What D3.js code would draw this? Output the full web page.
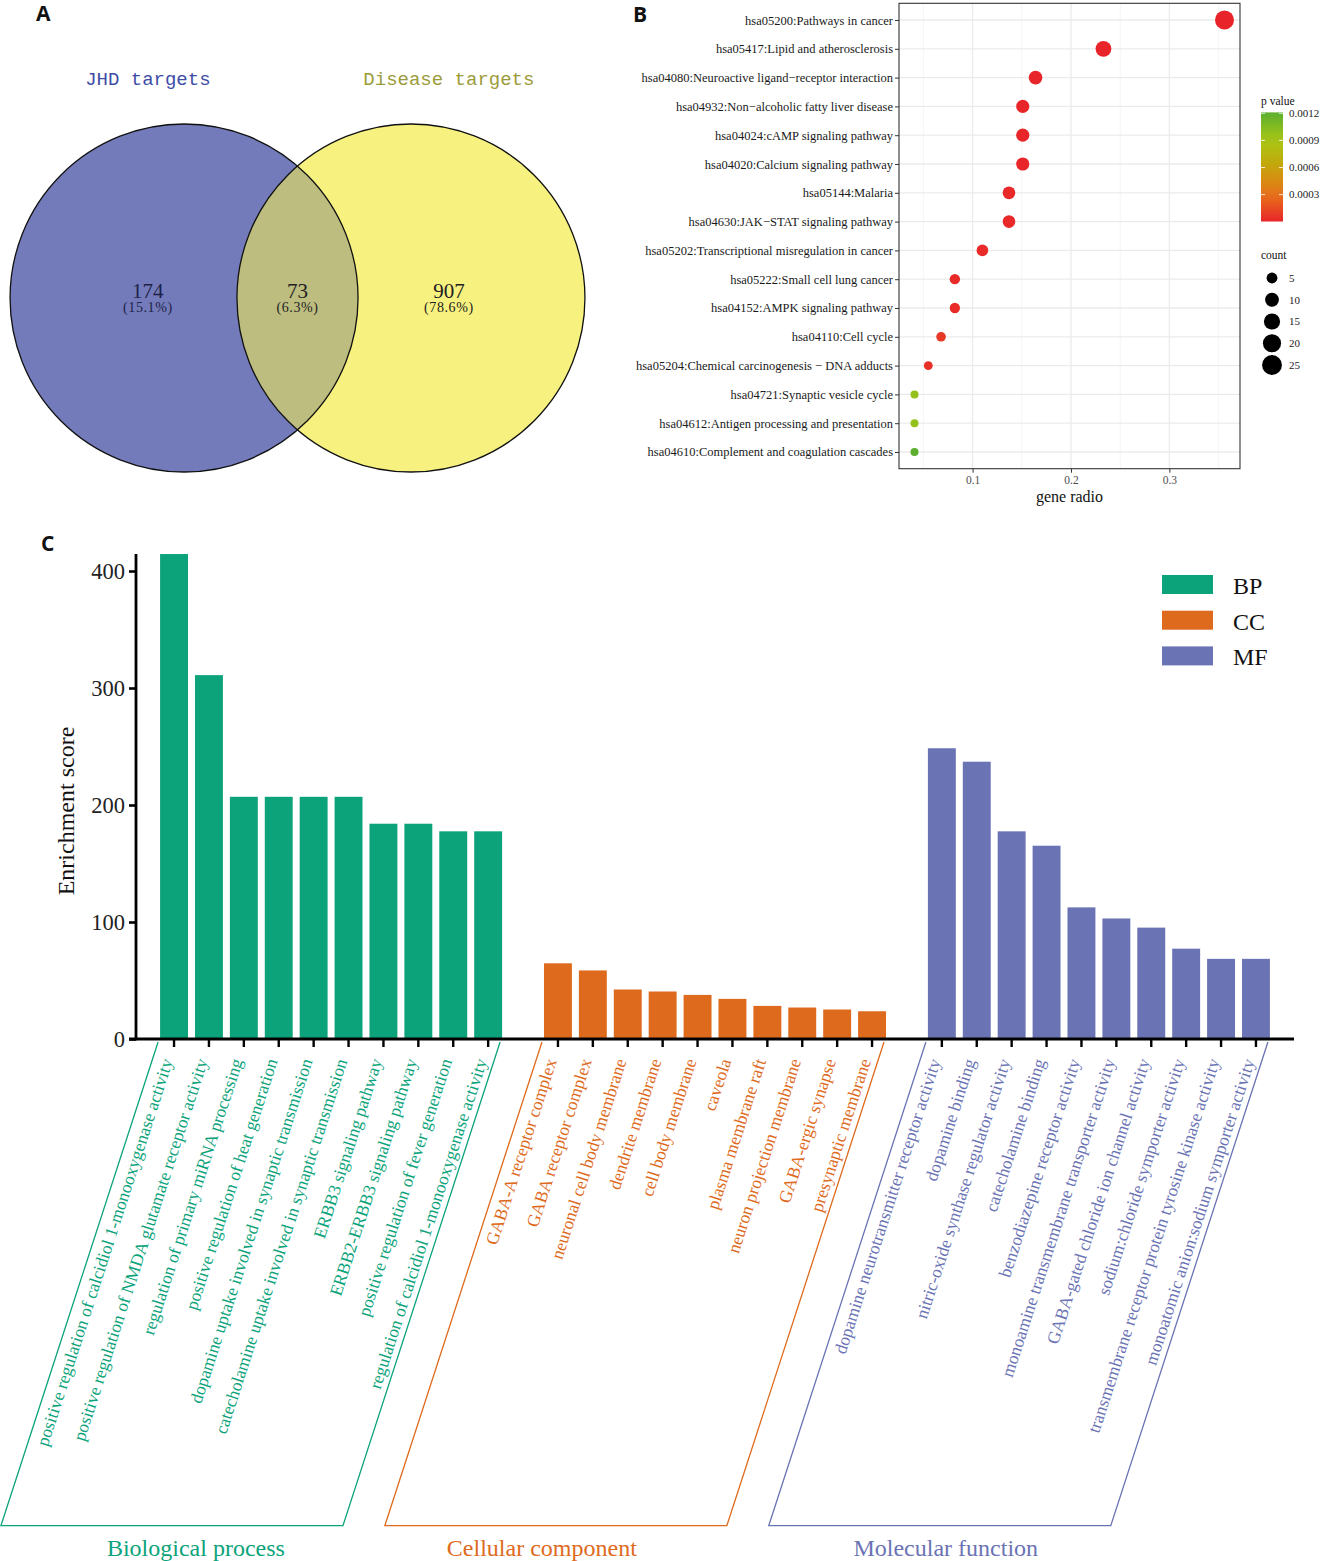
<!DOCTYPE html>
<html><head><meta charset="utf-8">
<script src="https://cdnjs.cloudflare.com/ajax/libs/d3/7.8.5/d3.min.js"></script>
<style>body{margin:0;background:#fff}svg{display:block}</style>
</head><body>
<svg id="c" width="1321" height="1561"></svg>
<script>
// ---------- DATA ----------
// Panel A: Venn
const vennSets = ["JHD targets", "Disease targets"];
const vennCounts = [174, 73, 907];
const vennPerc = ["(15.1%)", "(6.3%)", "(78.6%)"];

// Panel B: KEGG dot plot
const keggTerms = [
  "hsa05200:Pathways in cancer",
  "hsa05417:Lipid and atherosclerosis",
  "hsa04080:Neuroactive ligand\u2212receptor interaction",
  "hsa04932:Non\u2212alcoholic fatty liver disease",
  "hsa04024:cAMP signaling pathway",
  "hsa04020:Calcium signaling pathway",
  "hsa05144:Malaria",
  "hsa04630:JAK\u2212STAT signaling pathway",
  "hsa05202:Transcriptional misregulation in cancer",
  "hsa05222:Small cell lung cancer",
  "hsa04152:AMPK signaling pathway",
  "hsa04110:Cell cycle",
  "hsa05204:Chemical carcinogenesis \u2212 DNA adducts",
  "hsa04721:Synaptic vesicle cycle",
  "hsa04612:Antigen processing and presentation",
  "hsa04610:Complement and coagulation cascades"
];
const keggRatio = [0.356, 0.233, 0.164, 0.151, 0.151, 0.151, 0.137, 0.137, 0.110, 0.082, 0.082, 0.068, 0.055, 0.041, 0.041, 0.041];
const keggCount = [26, 17, 12, 11, 11, 11, 10, 10, 8, 6, 6, 5, 4, 3, 3, 3];
const keggP = [0.000002, 0.000005, 0.00001, 0.00001, 0.00001, 0.00001, 0.00002, 0.00002, 0.00003, 0.00003, 0.00003, 0.00008, 0.00005, 0.00098, 0.00098, 0.00121];
const xTicksB = [0.1, 0.2, 0.3];
const pTicks = [0.0003, 0.0006, 0.0009, 0.0012];
const countTicks = [5, 10, 15, 20, 25];

// Panel C: GO enrichment
const groups = ["BP", "CC", "MF"];
const groupTitles = ["Biological process", "Cellular component", "Molecular function"];
const bpTerms = [
  "positive regulation of calcidiol 1-monooxygenase activity",
  "positive regulation of NMDA glutamate receptor activity",
  "regulation of primary miRNA processing",
  "positive regulation of heat generation",
  "dopamine uptake involved in synaptic transmission",
  "catecholamine uptake involved in synaptic transmission",
  "ERBB3 signaling pathway",
  "ERBB2-ERBB3 signaling pathway",
  "positive regulation of fever generation",
  "regulation of calcidiol 1-monooxygenase activity"
];
const bpScore = [414.5, 311, 207, 207, 207, 207, 184, 184, 177.5, 177.5];
const ccTerms = [
  "GABA-A receptor complex",
  "GABA receptor complex",
  "neuronal cell body membrane",
  "dendrite membrane",
  "cell body membrane",
  "caveola",
  "plasma membrane raft",
  "neuron projection membrane",
  "GABA-ergic synapse",
  "presynaptic membrane"
];
const ccScore = [64.7, 58.6, 42.3, 40.6, 37.7, 34.3, 28.3, 26.9, 25.2, 23.7];
const mfTerms = [
  "dopamine neurotransmitter receptor activity",
  "dopamine binding",
  "nitric-oxide synthase regulator activity",
  "catecholamine binding",
  "benzodiazepine receptor activity",
  "monoamine transmembrane transporter activity",
  "GABA-gated chloride ion channel activity",
  "sodium:chloride symporter activity",
  "transmembrane receptor protein tyrosine kinase activity",
  "monoatomic anion:sodium symporter activity"
];
const mfScore = [248.5, 237, 177.5, 165.2, 112.5, 103, 95.2, 77.2, 68.5, 68.5];
const yTicksC = [0, 100, 200, 300, 400];

// ---------- STYLE ----------
const SERIF = "'Liberation Serif','Times New Roman',serif";
const MONO = "'Liberation Mono','DejaVu Sans Mono',monospace";
const SANS = "'Open Sans','Liberation Sans',sans-serif";
const groupColors = {BP: "#0ca37b", CC: "#de6a1d", MF: "#6a73b4"};

const svg = d3.select("#c");

// panel letters
svg.append("text").attr("x", 36).attr("y", 21).text("A")
  .attr("font-family", SANS).attr("font-weight", 700).attr("font-size", 21).attr("fill", "#111");
svg.append("text").attr("x", 633).attr("y", 22).text("B")
  .attr("font-family", SANS).attr("font-weight", 700).attr("font-size", 21).attr("fill", "#111");
svg.append("text").attr("x", 41).attr("y", 551).text("C")
  .attr("font-family", SANS).attr("font-weight", 700).attr("font-size", 21).attr("fill", "#111");

// ---------- PANEL A ----------
(function () {
  const g = svg.append("g");
  const vx = d3.scaleLinear().domain([-1, 1]).range([123.5, 471.5]);
  const vy = d3.scaleLinear().domain([-1, 1]).range([471.5, 124.5]);
  const r = vx(1) - vx(0);
  const centers = [-0.652, 0.652];
  const fills = ["#737bbb", "#f7f17f"];
  const defs = svg.append("defs");
  defs.append("clipPath").attr("id", "clipL").append("circle")
    .attr("cx", vx(centers[0])).attr("cy", vy(0)).attr("r", r);
  g.selectAll("circle.fill").data(centers).join("circle")
    .attr("cx", d => vx(d)).attr("cy", vy(0)).attr("r", r)
    .attr("fill", (d, i) => fills[i]);
  g.append("circle").attr("cx", vx(centers[1])).attr("cy", vy(0)).attr("r", r)
    .attr("fill", "#bdbd80").attr("clip-path", "url(#clipL)");
  g.selectAll("circle.st").data(centers).join("circle")
    .attr("cx", d => vx(d)).attr("cy", vy(0)).attr("r", r)
    .attr("fill", "none").attr("stroke", "#111").attr("stroke-width", 1.3);
  const titleCol = ["#3d4ca6", "#9c9b3a"];
  const titleX = [vx(-0.86), vx(0.87)];
  vennSets.forEach((s, i) => {
    g.append("text").attr("x", titleX[i]).attr("y", 85).attr("text-anchor", "middle")
      .attr("font-family", MONO).attr("font-size", 19).attr("fill", titleCol[i]).text(s);
  });
  const numX = [vx(-0.86), vx(0), vx(0.87)];
  const numCol = ["#1e2248", "#222", "#222"];
  vennCounts.forEach((c, i) => {
    g.append("text").attr("x", numX[i]).attr("y", 298).attr("text-anchor", "middle")
      .attr("font-family", SERIF).attr("font-size", 21).attr("fill", numCol[i]).text(c);
    g.append("text").attr("x", numX[i]).attr("y", 312).attr("text-anchor", "middle")
      .attr("font-family", SERIF).attr("font-size", 14).attr("letter-spacing", 0.6)
      .attr("fill", numCol[i]).text(vennPerc[i]);
  });
})();

// ---------- PANEL B ----------
(function () {
  const g = svg.append("g");
  const L = 899, R = 1240, T = 3.3, B = 468.7;
  const ext = d3.extent(keggRatio);
  const pad = (ext[1] - ext[0]) * 0.05;
  const x = d3.scaleLinear().domain([ext[0] - pad, ext[1] + pad]).range([L, R]);
  const y = d3.scalePoint().domain(keggTerms).range([T, B]).padding(0.58);
  const rS = d3.scaleSqrt().domain([3, 26]).range([4, 9.5]);
  const col = d3.scaleLinear().domain([0, 0.0003, 0.0006, 0.0009, 0.0012])
    .range(["#e8232a", "#e8731a", "#c8a20c", "#a8c814", "#5cae2e"]).clamp(true);

  const minor = [0.05, 0.15, 0.25, 0.35];
  g.selectAll("line.mn").data(minor).join("line")
    .attr("x1", d => x(d)).attr("x2", d => x(d)).attr("y1", T).attr("y2", B)
    .attr("stroke", "#f2f2f2").attr("stroke-width", 0.8);
  g.selectAll("line.mj").data(xTicksB).join("line")
    .attr("x1", d => x(d)).attr("x2", d => x(d)).attr("y1", T).attr("y2", B)
    .attr("stroke", "#ebebeb").attr("stroke-width", 1.3);
  g.selectAll("line.hy").data(keggTerms).join("line")
    .attr("x1", L).attr("x2", R).attr("y1", d => y(d)).attr("y2", d => y(d))
    .attr("stroke", "#ebebeb").attr("stroke-width", 1.3);

  g.selectAll("circle.pt").data(keggTerms).join("circle")
    .attr("cx", (d, i) => x(keggRatio[i])).attr("cy", d => y(d))
    .attr("r", (d, i) => rS(keggCount[i])).attr("fill", (d, i) => col(keggP[i]));

  g.append("rect").attr("x", L).attr("y", T).attr("width", R - L).attr("height", B - T)
    .attr("fill", "none").attr("stroke", "#333").attr("stroke-width", 1.1);

  const ya = g.append("g").attr("transform", `translate(${L},0)`)
    .call(d3.axisLeft(y).tickSize(4).tickPadding(2));
  ya.select(".domain").remove();
  ya.selectAll("line").attr("stroke", "#333");
  ya.selectAll("text").attr("font-family", SERIF).attr("font-size", 12.5).attr("fill", "#1a1a1a");

  const xa = g.append("g").attr("transform", `translate(0,${B})`)
    .call(d3.axisBottom(x).tickValues(xTicksB).tickSize(4).tickPadding(3).tickFormat(d3.format(".1f")));
  xa.select(".domain").remove();
  xa.selectAll("line").attr("stroke", "#333");
  xa.selectAll("text").attr("font-family", SERIF).attr("font-size", 11.5).attr("fill", "#4d4d4d");
  g.append("text").attr("x", (L + R) / 2).attr("y", 502).attr("text-anchor", "middle")
    .attr("font-family", SERIF).attr("font-size", 16).attr("fill", "#111").text("gene radio");

  const cbX = 1261, cbW = 22;
  const pExt = d3.extent(keggP);
  const py = d3.scaleLinear().domain([0, 0.0012]).range([221.7, 113.3]);
  const grad = svg.select("defs").append("linearGradient").attr("id", "pgrad")
    .attr("x1", 0).attr("x2", 0).attr("y1", 1).attr("y2", 0);
  const gs = d3.range(0, 1.0001, 0.1);
  grad.selectAll("stop").data(gs).join("stop")
    .attr("offset", d => d)
    .attr("stop-color", d => col(pExt[0] + d * (pExt[1] - pExt[0])));
  g.append("text").attr("x", cbX).attr("y", 105).attr("font-family", SERIF)
    .attr("font-size", 11.5).attr("fill", "#111").text("p value");
  g.append("rect").attr("x", cbX).attr("y", py(pExt[1])).attr("width", cbW)
    .attr("height", py(pExt[0]) - py(pExt[1])).attr("fill", "url(#pgrad)");
  pTicks.forEach(t => {
    g.append("line").attr("x1", cbX).attr("x2", cbX + 4).attr("y1", py(t)).attr("y2", py(t))
      .attr("stroke", "#fff").attr("stroke-width", 0.8);
    g.append("line").attr("x1", cbX + cbW - 4).attr("x2", cbX + cbW).attr("y1", py(t)).attr("y2", py(t))
      .attr("stroke", "#fff").attr("stroke-width", 0.8);
    g.append("text").attr("x", 1289).attr("y", py(t)).attr("dy", "0.35em")
      .attr("font-family", SERIF).attr("font-size", 11).attr("fill", "#222").text(d3.format(".4f")(t));
  });

  g.append("text").attr("x", cbX).attr("y", 259).attr("font-family", SERIF)
    .attr("font-size", 11.5).attr("fill", "#111").text("count");
  const ly = d3.scalePoint().domain(countTicks).range([278, 365]);
  countTicks.forEach(c => {
    g.append("circle").attr("cx", 1272).attr("cy", ly(c)).attr("r", rS(c) + 0.6).attr("fill", "#000");
    g.append("text").attr("x", 1289).attr("y", ly(c)).attr("dy", "0.35em")
      .attr("font-family", SERIF).attr("font-size", 11).attr("fill", "#222").text(c);
  });
})();

// ---------- PANEL C ----------
(function () {
  const g = svg.append("g");
  const axisX = 136, axisY = 1039, rightX = 1294;
  const items = [];
  const termSets = [bpTerms, ccTerms, mfTerms];
  const scoreSets = [bpScore, ccScore, mfScore];
  const slots = [];
  groups.forEach((grp, gi) => {
    termSets[gi].forEach((t, i) => {
      const key = grp + i;
      items.push({key, term: t, score: scoreSets[gi][i], grp, gi});
      slots.push(key);
    });
    if (gi < groups.length - 1) slots.push("gap" + gi);
  });
  const x = d3.scaleBand().domain(slots).range([axisX, rightX]).paddingInner(0.2).paddingOuter(0.69);
  const maxV = d3.max(items, d => d.score);
  const y = d3.scaleLinear().domain([0, 400]).range([axisY, 571]);

  g.selectAll("rect.bar").data(items).join("rect")
    .attr("x", d => x(d.key)).attr("width", x.bandwidth())
    .attr("y", d => y(d.score)).attr("height", d => axisY - y(d.score))
    .attr("fill", d => groupColors[d.grp]);

  const ya = g.append("g").attr("transform", `translate(${axisX},0)`)
    .call(d3.axisLeft(y).tickValues(yTicksC).tickSize(7).tickPadding(4));
  ya.select(".domain").remove();
  ya.selectAll("line").attr("stroke", "#000").attr("stroke-width", 2.6);
  ya.selectAll("text").attr("font-family", SERIF).attr("font-size", 22.5).attr("fill", "#222");
  g.append("line").attr("x1", axisX).attr("x2", axisX).attr("y1", axisY + 1.3).attr("y2", y(maxV))
    .attr("stroke", "#000").attr("stroke-width", 2.8);
  g.append("line").attr("x1", axisX - 7).attr("x2", rightX).attr("y1", axisY).attr("y2", axisY)
    .attr("stroke", "#000").attr("stroke-width", 2.8);
  g.selectAll("line.xt").data(items).join("line")
    .attr("x1", d => x(d.key) + x.bandwidth() / 2).attr("x2", d => x(d.key) + x.bandwidth() / 2)
    .attr("y1", axisY).attr("y2", axisY + 8).attr("stroke", "#000").attr("stroke-width", 2.4);

  g.append("text").attr("transform", `translate(74,811) rotate(-90)`).attr("text-anchor", "middle")
    .attr("font-family", SERIF).attr("font-size", 24).attr("fill", "#111").text("Enrichment score");

  const ang = 72;
  g.selectAll("text.lab").data(items).join("text")
    .attr("transform", d => `translate(${x(d.key) + x.bandwidth() / 2 - 1},${axisY + 22}) rotate(${-ang})`)
    .attr("text-anchor", "end")
    .attr("font-family", SERIF).attr("font-size", 17.6).attr("fill", d => groupColors[d.grp])
    .text(d => d.term);

  const topY = 1042, botY = 1525.7;
  const slope = Math.tan((90 - ang) * Math.PI / 180);
  const titleOff = [24, -14, 6];
  groups.forEach((grp, gi) => {
    const gi0 = items.filter(d => d.gi === gi);
    const x0 = x(gi0[0].key) - 2;
    const x1 = x(gi0[gi0.length - 1].key) + x.bandwidth() - 2;
    const dx = (botY - topY) * slope;
    const pts = [[x0, topY], [x0 - dx, botY], [x1 - dx, botY], [x1, topY]];
    g.append("path").attr("d", d3.line()(pts)).attr("fill", "none")
      .attr("stroke", groupColors[grp]).attr("stroke-width", 1.3);
    g.append("text").attr("x", (x0 + x1) / 2 - dx + titleOff[gi]).attr("y", 1556)
      .attr("text-anchor", "middle").attr("font-family", SERIF).attr("font-size", 24)
      .attr("fill", groupColors[grp]).text(groupTitles[gi]);
  });

  groups.forEach((grp, i) => {
    const yy = 575 + i * 35.7;
    g.append("rect").attr("x", 1162).attr("y", yy).attr("width", 51).attr("height", 19)
      .attr("fill", groupColors[grp]);
    g.append("text").attr("x", 1233).attr("y", yy + 19).attr("font-family", SERIF)
      .attr("font-size", 24).attr("fill", "#111").text(grp);
  });
})();
</script>
</body></html>
